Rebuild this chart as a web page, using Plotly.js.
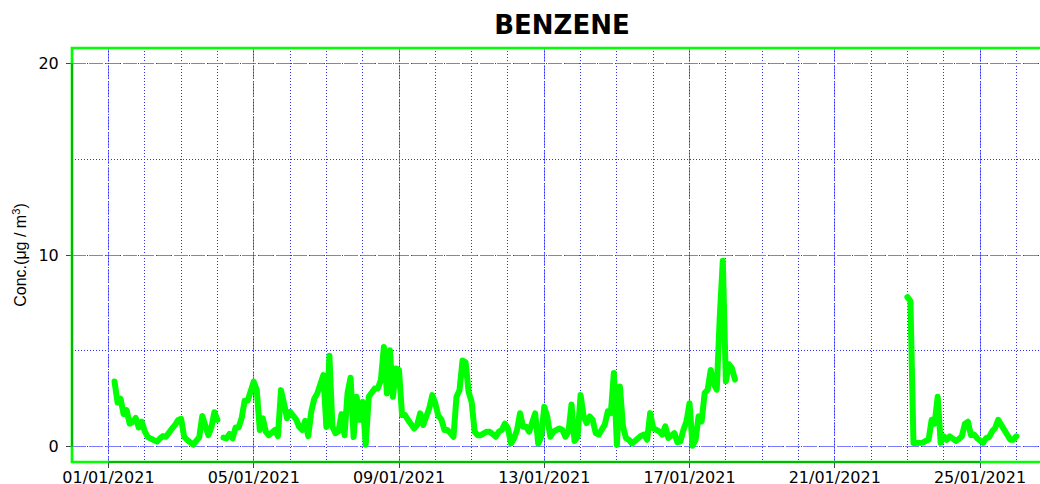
<!DOCTYPE html>
<html><head><meta charset="utf-8">
<script src="https://cdn.plot.ly/plotly-3.0.1.min.js"></script>
<style>
html,body{margin:0;padding:0;background:#fff}
#chart{width:1040px;height:484px}
.scatterlayer path.js-line{stroke-linejoin:round !important;stroke-linecap:round !important}
</style>
</head><body><div id="chart"></div>
<script>
// Benzene series (2-hour steps), three continuous segments
const stepHours = 2;
const seg1Start = '2021-01-01 04:00';
const seg1Values = [3.4,2.3,2.5,1.7,1.9,1.2,1.3,1.5,1.0,1.3,
  0.8,0.5,0.42,0.35,0.26,0.43,0.55,0.52,0.8,0.95,1.13,1.39,
  1.45,0.52,0.35,0.25,0.1,0.3,0.5,1.6,1.1,0.6,1.0,1.8,1.4];
const seg2Start = '2021-01-04 04:00';
const seg2Values = [0.47,0.43,0.66,0.43,1.0,1.0,1.48,2.4,2.4,2.86,
  3.39,2.95,0.87,1.48,0.78,0.6,0.7,0.87,0.55,2.95,2.26,1.48,
  1.82,1.63,1.42,1.04,0.87,1.35,0.55,1.82,2.5,2.78,3.2,3.73,
  1.04,4.75,1.04,0.7,0.8,1.7,0.6,2.8,3.6,0.5,2.6,1.4,
  2.34,0.1,2.6,2.86,3.04,3.04,3.47,5.2,2.78,5.03,2.6,4.08,
  4.0,1.65,1.65,1.39,1.13,0.95,1.13,1.74,1.13,1.56,2.0,2.69,
  2.26,1.6,1.42,0.87,0.87,0.7,0.52,2.6,2.95,4.5,4.4,2.86,
  2.34,0.78,0.6,0.6,0.7,0.78,0.78,0.6,0.52,0.78,0.87,1.2,
  0.95,0.17,0.43,0.87,1.74,1.04,1.04,0.78,1.2,1.74,0.17,0.52,
  2.08,1.56,0.52,0.78,0.87,0.95,0.87,0.52,0.78,2.2,0.3,0.5,
  2.7,1.58,1.23,1.58,1.4,0.71,0.63,0.88,1.15,1.84,1.75,3.84,
  0.1,3.14,1.06,0.45,0.36,0.16,0.31,0.4,0.57,0.63,0.36,1.75,
  0.97,0.88,0.8,0.63,1.06,0.45,0.63,0.71,0.23,0.28,0.88,1.32,
  2.27,0.05,0.36,1.58,1.32,2.8,2.97,4.0,3.3,2.97,6.8,9.7,
  3.4,4.3,4.1,3.5];
const seg3Start = '2021-01-23 00:00';
const seg3Values = [7.8,7.6,0.19,0.19,0.22,0.2,0.3,0.36,1.4,1.2,2.6,0.2,
  0.54,0.36,0.54,0.4,0.3,0.4,0.54,1.2,1.3,0.6,0.63,0.45,
  0.28,0.2,0.45,0.5,0.8,0.97,1.4,1.1,0.8,0.5,0.36,0.36,0.54];

const tickDates = ['2021-01-01','2021-01-05','2021-01-09','2021-01-13','2021-01-17','2021-01-21','2021-01-25'];
const tickLabels = ['01/01/2021','05/01/2021','09/01/2021','13/01/2021','17/01/2021','21/01/2021','25/01/2021'];
const yTicks = [0, 10, 20];
const xRange = ['2020-12-30 23:53:30', '2021-01-26 15:37:30'];
const yRange = [-0.8, 20.8];

function toMs(s){
  const parts = s.split(' ');
  const d = parts[0].split('-').map(Number);
  const t = (parts[1] || '00:00:00').split(':').map(Number);
  return Date.UTC(d[0], d[1]-1, d[2], t[0]||0, t[1]||0, t[2]||0);
}
function fmt(ms){
  const D = new Date(ms), p = n => String(n).padStart(2,'0');
  return D.getUTCFullYear()+'-'+p(D.getUTCMonth()+1)+'-'+p(D.getUTCDate())+' '+p(D.getUTCHours())+':'+p(D.getUTCMinutes());
}
const xs = [], ys = [];
const stepMs = stepHours*3600000;
[[seg1Start,seg1Values],[seg2Start,seg2Values],[seg3Start,seg3Values]].forEach(([s,vals])=>{
  const t0 = toMs(s);
  vals.forEach((v,i)=>{ xs.push(fmt(t0+i*stepMs)); ys.push(v); });
  xs.push(fmt(t0+vals.length*stepMs)); ys.push(null);
});

const r0 = toMs(xRange[0]), r1 = toMs(xRange[1]);
const frac = d => (toMs(d)-r0)/(r1-r0);

const dashCol = '#7b7bff', dotCol = '#2f2fff';
const tickFont = {family:'DejaVu Sans', size:16, color:'#000'};

const data = [
  {type:'scatter', mode:'lines', x:xs, y:ys, connectgaps:false,
   line:{color:'#00ff00', width:6}, hoverinfo:'x+y', showlegend:false},
  {type:'scatter', mode:'lines', x:[], y:[], xaxis:'x2', yaxis:'y', showlegend:false, hoverinfo:'skip'}
];

const layout = {
  width:1040, height:484,
  margin:{l:71.5, r:0, t:48, b:22, pad:0},
  paper_bgcolor:'#fff', plot_bgcolor:'#fff',
  showlegend:false,
  title:{text:'BENZENE', font:{family:'DejaVu Sans', size:26, weight:'bold', color:'#000'},
         x:562/1040, xref:'container', xanchor:'center', y:1-25/484, yref:'container', yanchor:'middle'},
  xaxis:{type:'date', range:xRange, tickmode:'array', tickvals:tickDates, ticktext:tickLabels,
         ticks:'outside', ticklen:5, tickwidth:1, tickcolor:'#444', tickfont:tickFont, ticklabelstandoff:-4,
         showline:false, zeroline:false, showgrid:true, gridcolor:dashCol, griddash:'14px,3px', gridwidth:1,
         minor:{tick0:'2021-01-01', dtick:86400000, showgrid:true, gridcolor:dotCol, griddash:'1px,2px', gridwidth:1, ticks:''}},
  xaxis2:{type:'date', overlaying:'x', range:xRange, tickmode:'array', tickvals:tickDates,
          showticklabels:false, ticks:'', showline:false, zeroline:false,
          showgrid:true, gridcolor:dotCol, griddash:'1px,2px', gridwidth:1},
  yaxis:{range:yRange, tickmode:'array', tickvals:yTicks, ticktext:yTicks.map(String),
         ticks:'outside', ticklen:5, tickwidth:1, tickcolor:'#444', tickfont:tickFont, ticklabelstandoff:4,
         showline:false, zeroline:false, showgrid:true, gridcolor:dashCol, griddash:'14px,3px', gridwidth:1,
         minor:{tick0:0, dtick:5, showgrid:true, gridcolor:dotCol, griddash:'1px,2px', gridwidth:1, ticks:''},
         title:{text:'Conc.(μg / m<sup>3</sup>)', font:{family:'Liberation Sans', size:16, color:'#000'}, standoff:7}},
  shapes:[
    {type:'rect', xref:'paper', yref:'paper', x0:0, x1:1.2, y0:0, y1:1, line:{color:'#00ff00', width:2.7}, layer:'above'},
    {type:'line', xref:'paper', yref:'paper', x0:frac(tickDates[0]), x1:frac(tickDates[tickDates.length-1]), y0:0, y1:0,
     line:{color:'rgba(0,0,0,0.55)', width:1}, layer:'above'},
    {type:'line', xref:'paper', yref:'paper', x0:0, x1:0,
     y0:(yTicks[0]-yRange[0])/(yRange[1]-yRange[0]), y1:(yTicks[yTicks.length-1]-yRange[0])/(yRange[1]-yRange[0]),
     line:{color:'rgba(0,0,0,0.55)', width:1}, layer:'above'}
  ]
};
Plotly.newPlot('chart', data, layout, {displayModeBar:false, staticPlot:true});
</script>
</body></html>
